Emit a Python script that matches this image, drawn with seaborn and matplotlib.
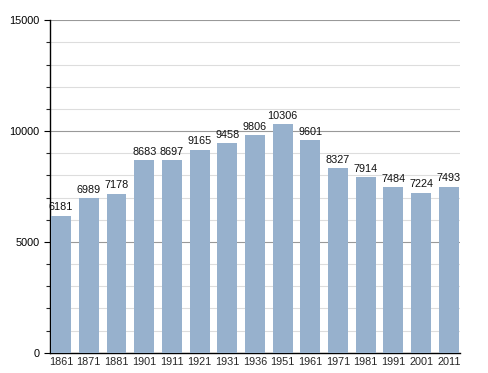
import matplotlib
matplotlib.use("Agg")
import matplotlib.pyplot as plt
import seaborn as sns
import pandas as pd
from matplotlib.ticker import MultipleLocator

# Population by census year
years = ["1861", "1871", "1881", "1901", "1911", "1921", "1931", "1936",
         "1951", "1961", "1971", "1981", "1991", "2001", "2011"]
population = [6181, 6989, 7178, 8683, 8697, 9165, 9458, 9806,
              10306, 9601, 8327, 7914, 7484, 7224, 7493]

df = pd.DataFrame({"Year": years, "Population": population})

sns.set_style("white")
plt.rcParams["font.family"] = ["Liberation Sans", "DejaVu Sans"]

fig = plt.figure(figsize=(4.88, 3.73), dpi=100)
ax = fig.add_axes([0.1025, 0.054, 0.84, 0.892])

sns.barplot(data=df, x="Year", y="Population", color="#97b1cd",
            saturation=1, width=0.72, linewidth=0, ax=ax, zorder=3)

for i, v in enumerate(population):
    ax.text(i, v + 150, str(v), ha="center", va="bottom", fontsize=7.8,
            color="#111111", zorder=4)

ax.set_ylim(0, 15000)
ax.set_xlim(-0.4, 14.4)
ax.yaxis.set_major_locator(MultipleLocator(5000))
ax.yaxis.set_minor_locator(MultipleLocator(1000))
ax.grid(which="major", axis="y", color="#999999", linewidth=0.8, zorder=0)
ax.grid(which="minor", axis="y", color="#dddddd", linewidth=0.8, zorder=0)
ax.set_axisbelow(True)

for s in ["top", "right"]:
    ax.spines[s].set_visible(False)
ax.spines["left"].set_color("black")
ax.spines["bottom"].set_color("black")
ax.spines["left"].set_linewidth(1)
ax.spines["bottom"].set_linewidth(1)

ax.tick_params(axis="y", which="major", length=4, width=0.8, labelsize=7.8,
               left=True, colors="black")
ax.tick_params(axis="y", which="minor", length=3, width=0.8, left=True)
ax.tick_params(axis="x", length=0, labelsize=7.8, pad=3)
ax.set_xlabel("")
ax.set_ylabel("")

fig.savefig("out.png", dpi=100)
